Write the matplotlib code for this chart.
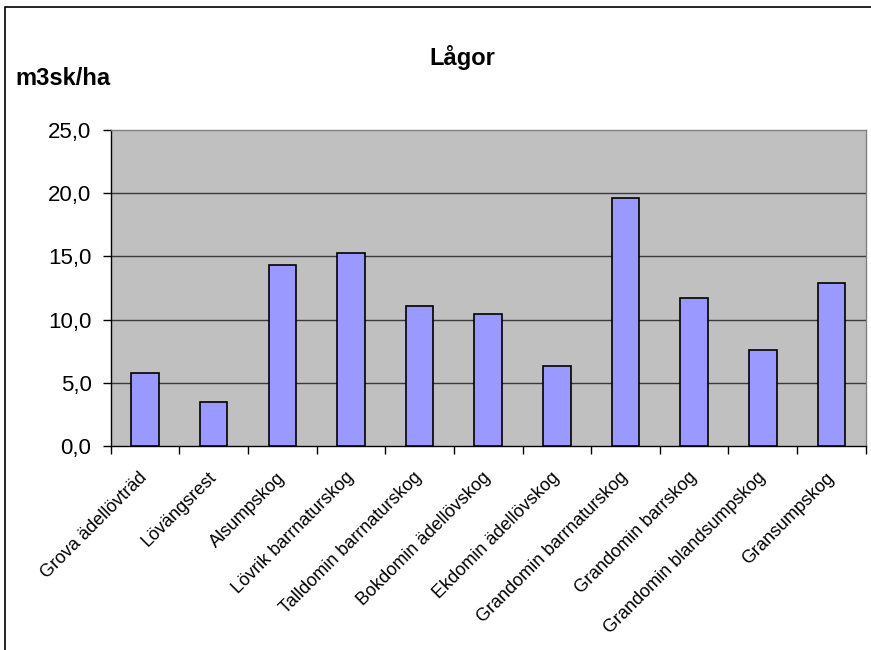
import matplotlib.pyplot as plt
from matplotlib.patches import Rectangle
from matplotlib.ticker import FuncFormatter, FixedLocator

plt.rcParams['font.family'] = ['Liberation Sans', 'DejaVu Sans']

# Volym lågor per skogstyp (m3sk/ha)
kategorier = ['Grova ädellövträd', 'Lövängsrest', 'Alsumpskog', 'Lövrik barrnaturskog',
              'Talldomin barrnaturskog', 'Bokdomin ädellövskog', 'Ekdomin ädellövskog',
              'Grandomin barrnaturskog', 'Grandomin barrskog', 'Grandomin blandsumpskog',
              'Gransumpskog']
volym = [5.8, 3.5, 14.3, 15.3, 11.1, 10.4, 6.3, 19.6, 11.7, 7.6, 12.9]
y_ticks = [0, 5, 10, 15, 20, 25]

fig = plt.figure(figsize=(8.71, 6.5), dpi=100)
ax = fig.add_axes([0.127, 0.314, 0.867, 0.486])
ax.set_facecolor('#C0C0C0')

x = range(len(kategorier))
ax.bar(x, volym, width=0.4, color='#9999FF', edgecolor='black', linewidth=1.2, zorder=3)

ax.set_xlim(-0.5, len(kategorier) - 0.5)
ax.set_ylim(0, 25)

# stödlinjer
for v in y_ticks[1:-1]:
    ax.axhline(v, color='#3a3a3a', linewidth=1.0, zorder=1)

ax.set_yticks(y_ticks)
ax.yaxis.set_major_formatter(FuncFormatter(lambda v, p: f'{v:.1f}'.replace('.', ',')))
ax.tick_params(axis='y', direction='out', length=5.8, width=1, pad=8, labelsize=16)

ax.set_xticks(list(x))
ax.set_xticklabels(kategorier, rotation=45, ha='right', va='center',
                   rotation_mode='anchor', fontsize=13)
ax.tick_params(axis='x', which='major', length=0, pad=21)
ax.xaxis.set_minor_locator(FixedLocator([i - 0.5 for i in range(len(kategorier) + 1)]))
ax.tick_params(axis='x', which='minor', direction='out', length=6, width=1)

ax.spines['left'].set_color('black')
ax.spines['bottom'].set_color('black')
ax.spines['top'].set_color('#808080')
ax.spines['right'].set_color('#808080')
for s in ax.spines.values():
    s.set_linewidth(1.0)

fig.text(0.531, 0.911, 'Lågor', ha='center', va='center', fontsize=17, fontweight='bold')
fig.text(0.018, 0.879, 'm3sk/ha', ha='left', va='center', fontsize=17, fontweight='bold')

# ram runt diagrammet
fig.patches.append(Rectangle((5 / 871, -0.1), 1.1, 1 - 7 / 650 + 0.1, transform=fig.transFigure,
                             fill=False, edgecolor='black', linewidth=1.2))

fig.savefig('out.png', dpi=100)
